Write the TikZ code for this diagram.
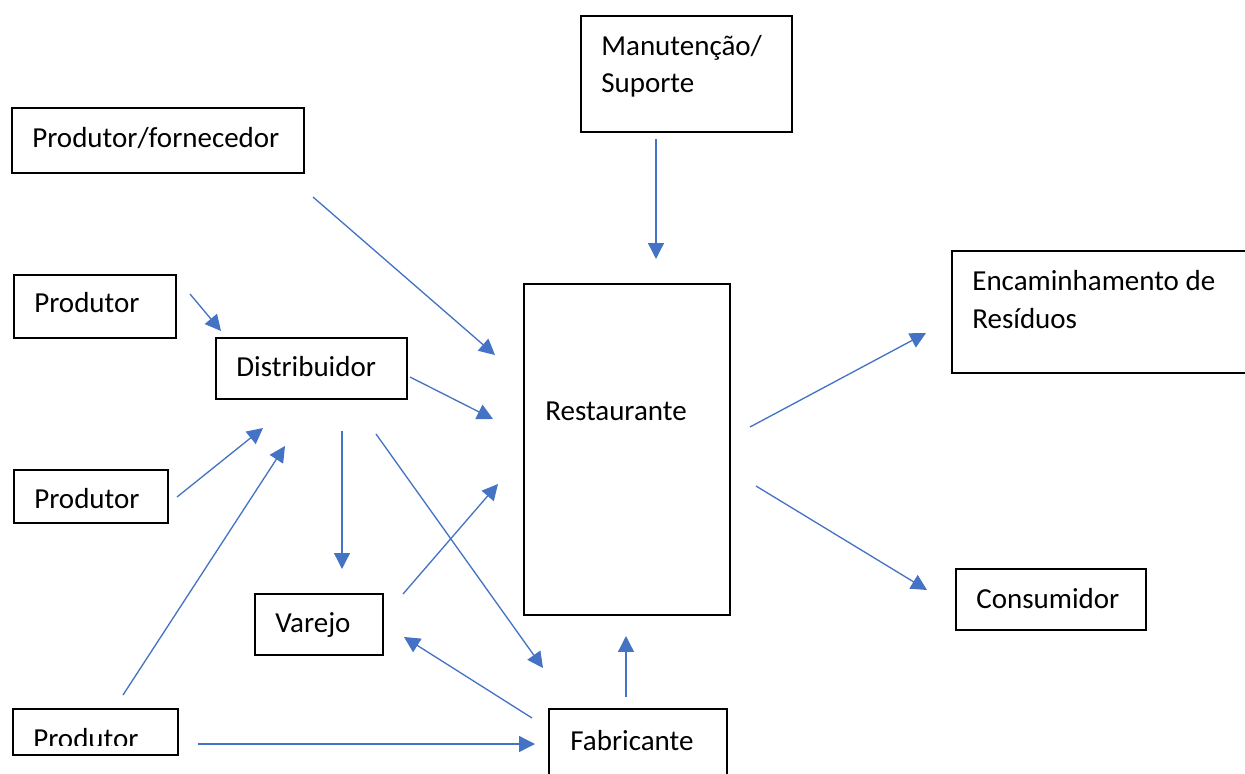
\documentclass[tikz,border=0pt]{standalone}
\usepackage{fontspec}
\setmainfont{Carlito}
\usepackage{tikz}
\usetikzlibrary{arrows.meta, positioning, fit}

\definecolor{linkblue}{HTML}{4472C4}

\begin{document}
\begin{tikzpicture}[
    x=0.02cm, y=-0.02cm,
    >={Triangle[length=9pt, width=9pt]},
    box/.style={
        rectangle, draw=black, line width=1.1pt, inner sep=0pt
    },
    boxtext/.style={
        inner sep=0pt, align=left, anchor=base west,
        font=\fontsize{16.5}{21}\selectfont
    },
    link/.style={->, draw=linkblue, line width=0.75pt, linkblue},
]
\useasboundingbox (0,0) rectangle (1245,774);

% Boxes
\node[box, fit={(581,16) (792,132)}] (manut) {};
\node[box, fit={(12,108) (304,173)}] (prodforn) {};
\node[box, fit={(14,275) (176,338)}] (prod1) {};
\node[box, fit={(216,338) (407,399)}] (distr) {};
\node[box, fit={(14,470) (168,523)}] (prod2) {};
\node[box, fit={(524,284) (730,615)}] (rest) {};
\node[box, fit={(952,251) (1260,373)}] (resid) {};
\node[box, fit={(956,569) (1146,630)}] (consum) {};
\node[box, fit={(255,594) (383,655)}] (varejo) {};
\node[box, fit={(13,709) (178,755)}] (prod3) {};
\node[box, fit={(549,709) (727,800)}] (fabric) {};

% Texts
\node[boxtext] at (601,55) {Manutenção/};
\node[boxtext] at (601,92) {Suporte};
\node[boxtext] at (32,147) {Produtor/fornecedor};
\node[boxtext] at (34,312) {Produtor};
\node[boxtext] at (236,376) {Distribuidor};
\node[boxtext] at (34,508) {Produtor};
\node[boxtext] at (545,420) {Restaurante};
\node[boxtext] at (972,290) {Encaminhamento de};
\node[boxtext] at (972,328) {Resíduos};
\node[boxtext] at (976,608) {Consumidor};
\node[boxtext] at (275,632) {Varejo};
\begin{scope}
    \clip (20,715) rectangle (170,745);
    \node[boxtext] at (33,748) {Produtor};
\end{scope}
\node[boxtext] at (570,750) {Fabricante};

% Connector ends
\coordinate (manut-out) at (656,139);
\coordinate (rest-in-top) at (656,259);
\coordinate (prodforn-out) at (313,197);
\coordinate (rest-in-pf) at (495,355);
\coordinate (prod1-out) at (190,294);
\coordinate (distr-in-p1) at (221,331);
\coordinate (distr-out-r) at (410,377);
\coordinate (rest-in-d) at (493,419);
\coordinate (prod2-out) at (177,497);
\coordinate (distr-in-p2) at (263,428);
\coordinate (prod3-up) at (123,695);
\coordinate (distr-in-p3) at (285,446);
\coordinate (distr-out-v) at (342,431);
\coordinate (varejo-in-d) at (342,569);
\coordinate (distr-out-f) at (376,434);
\coordinate (fabric-in-d) at (543,668);
\coordinate (varejo-out) at (403,594);
\coordinate (rest-in-v) at (498,484);
\coordinate (fabric-out-v) at (532,718);
\coordinate (varejo-in-f) at (404,637);
\coordinate (prod3-right) at (198,744);
\coordinate (fabric-in-p3) at (535,744);
\coordinate (fabric-up) at (626,697);
\coordinate (rest-in-f) at (626,636);
\coordinate (rest-out-r) at (750,427);
\coordinate (resid-in) at (926,333);
\coordinate (rest-out-c) at (756,486);
\coordinate (consum-in) at (927,590);

% Arrows
\draw[link] (manut-out) -- (rest-in-top);
\draw[link] (prodforn-out) -- (rest-in-pf);
\draw[link] (prod1-out) -- (distr-in-p1);
\draw[link] (distr-out-r) -- (rest-in-d);
\draw[link] (prod2-out) -- (distr-in-p2);
\draw[link] (prod3-up) -- (distr-in-p3);
\draw[link] (distr-out-v) -- (varejo-in-d);
\draw[link] (distr-out-f) -- (fabric-in-d);
\draw[link] (varejo-out) -- (rest-in-v);
\draw[link] (fabric-out-v) -- (varejo-in-f);
\draw[link] (prod3-right) -- (fabric-in-p3);
\draw[link] (fabric-up) -- (rest-in-f);
\draw[link] (rest-out-r) -- (resid-in);
\draw[link] (rest-out-c) -- (consum-in);

\end{tikzpicture}
\end{document}
